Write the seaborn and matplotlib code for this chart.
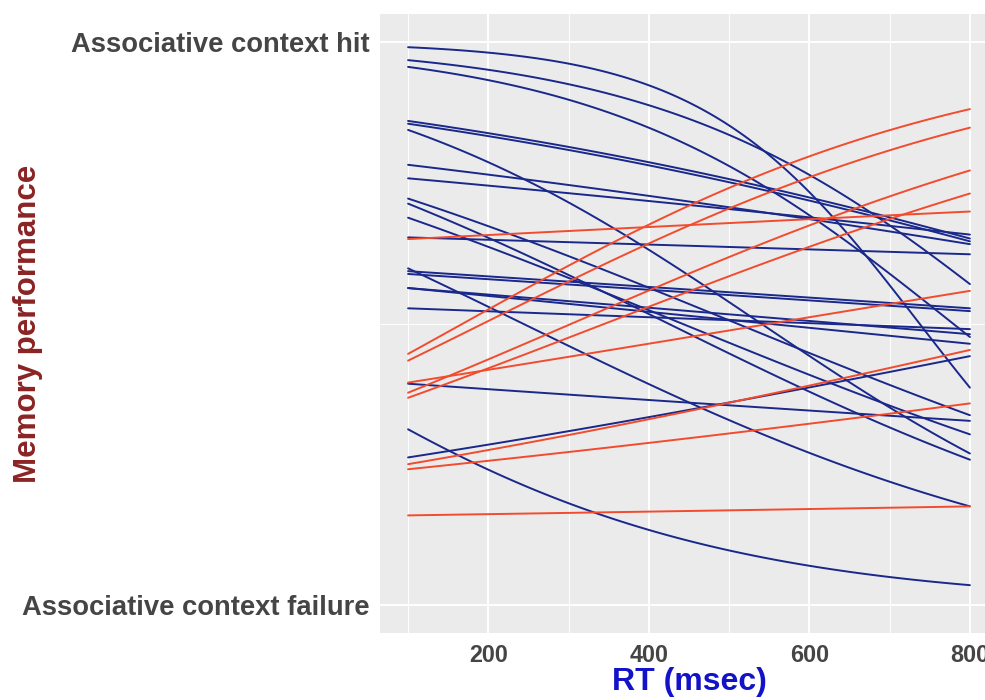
import numpy as np
import pandas as pd
import matplotlib
matplotlib.use("Agg")
import matplotlib.pyplot as plt
import seaborn as sns

# RT range covered by each participant's fitted curve (msec)
rt_limits = [100, 800]

# Predicted memory performance (0 = context failure, 1 = context hit)
# at the shortest and the longest RT, one entry per participant.
neg_start = [0.991, 0.968, 0.956, 0.860, 0.855, 0.844, 0.782, 0.758, 0.722,
             0.713, 0.688, 0.653, 0.598, 0.593, 0.588, 0.563, 0.563, 0.527,
             0.393, 0.312, 0.262]
neg_end = [0.386, 0.570, 0.476, 0.651, 0.646, 0.269, 0.641, 0.658, 0.337,
           0.258, 0.303, 0.623, 0.175, 0.527, 0.522, 0.464, 0.481, 0.490,
           0.327, 0.035, 0.442]

pos_start = [0.650, 0.446, 0.434, 0.395, 0.377, 0.368, 0.250, 0.241, 0.159]
pos_end = [0.699, 0.881, 0.848, 0.558, 0.772, 0.731, 0.453, 0.358, 0.175]

y_ticks = [0, 1]
y_ticklabels = ["Associative context failure", "Associative context hit"]
x_ticks = [200, 400, 600, 800]

line_colors = {"RT slows recall": "#19288A", "RT aids recall": "#F24B2E"}


def logit(p):
    p = np.asarray(p, dtype=float)
    return np.log(p / (1 - p))


def fitted_curves(starts, ends, label, first_id):
    """Logistic predictions across the RT range for each participant."""
    rt = np.linspace(rt_limits[0], rt_limits[1], 120)
    t = (rt - rt_limits[0]) / (rt_limits[1] - rt_limits[0])
    rows = []
    for i, (a, b) in enumerate(zip(logit(starts), logit(ends))):
        perf = 1 / (1 + np.exp(-(a + (b - a) * t)))
        rows.append(pd.DataFrame({"rt": rt, "perf": perf,
                                  "subject": first_id + i, "slope": label}))
    return rows


frames = fitted_curves(neg_start, neg_end, "RT slows recall", 0)
frames += fitted_curves(pos_start, pos_end, "RT aids recall", len(neg_start))
df = pd.concat(frames, ignore_index=True)

sns.set_theme(style="darkgrid")
plt.rcParams["font.family"] = ["Liberation Sans", "DejaVu Sans"]

W, H = 985, 700
fig = plt.figure(figsize=(W / 100, H / 100), dpi=100)
fig.patch.set_facecolor("white")
ax = fig.add_axes([380 / W, 67 / H, 618 / W, 619 / H])
ax.set_facecolor("#EBEBEB")

sns.lineplot(data=df, x="rt", y="perf", hue="slope", units="subject",
             estimator=None, palette=line_colors, linewidth=1.4,
             hue_order=["RT slows recall", "RT aids recall"],
             legend=False, ax=ax)

ax.set_xlim(65, 835)
ax.set_ylim(-0.05, 1.05)

ax.set_xticks(x_ticks)
ax.set_xticks([100, 300, 500, 700], minor=True)
ax.set_yticks(y_ticks)
ax.set_yticks([0.5], minor=True)
ax.set_yticklabels(y_ticklabels)

ax.grid(which="major", color="white", linewidth=1.4)
ax.grid(which="minor", color="white", linewidth=0.7)
for s in ax.spines.values():
    s.set_visible(False)

ax.tick_params(which="major", length=4, width=1.1, color="#333333",
               labelcolor="#454545")
ax.tick_params(axis="x", which="major", labelsize=16.8, pad=4)
ax.tick_params(axis="y", which="major", labelsize=19.7, pad=3.5)
ax.tick_params(which="minor", length=0)
for lbl in ax.get_xticklabels() + ax.get_yticklabels():
    lbl.set_fontweight("bold")

ax.set_xlabel("RT (msec)", color="#1212C8", fontweight="bold", fontsize=23,
              labelpad=0)
ax.set_ylabel("Memory performance", color="#8B2323", fontweight="bold",
              fontsize=22.5)
ax.yaxis.set_label_coords(43 / W, (700 - 324) / H, transform=fig.transFigure)

fig.savefig("out.png", dpi=100)
